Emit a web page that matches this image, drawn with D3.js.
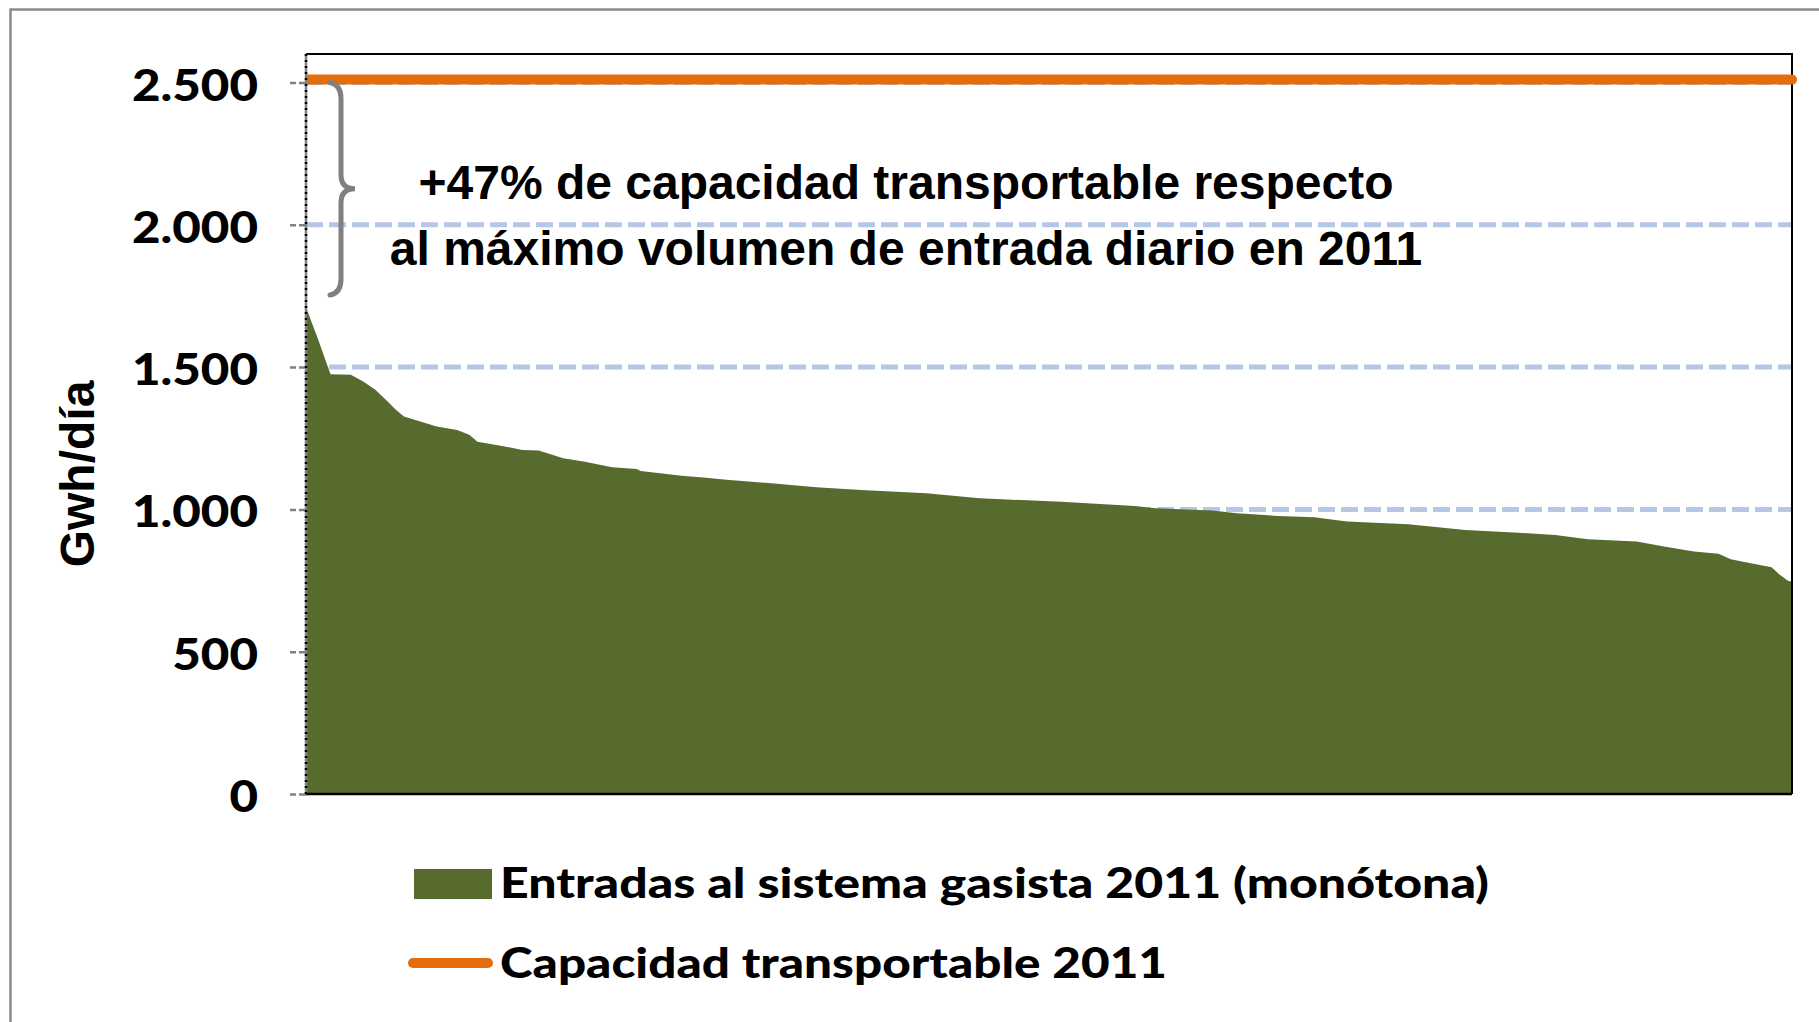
<!DOCTYPE html>
<html>
<head>
<meta charset="utf-8">
<script src="https://cdn.jsdelivr.net/npm/d3@7"></script>
<style>
  html, body { margin: 0; padding: 0; background: #fff; }
  svg { display: block; }
</style>
</head>
<body>
<svg id="chart" width="1819" height="1022"></svg>
<script>
// day of the year (sorted, monotone curve) and daily entries in GWh/día
const days = [0, 3, 5, 6, 11, 14, 17, 20, 22, 24, 28, 32, 37, 40, 42, 48, 53, 57, 63, 68,
  75, 81, 82, 92, 98, 103, 114, 125, 136, 152, 165, 185, 203, 208, 222, 228, 238, 247,
  255, 270, 284, 297, 306, 314, 326, 333, 340, 346, 349, 353, 359, 361, 363, 364];
const entradas = [1710, 1596, 1515, 1475, 1473, 1449, 1420, 1379, 1350, 1326, 1309, 1291,
  1279, 1262, 1238, 1223, 1209, 1207, 1180, 1168, 1148, 1142, 1135, 1118, 1111, 1104,
  1092, 1078, 1068, 1057, 1039, 1027, 1012, 1004, 996, 986, 977, 972, 957, 948, 928,
  918, 910, 895, 887, 869, 852, 844, 825, 813, 797, 770, 749, 746];
const capacidad = 2510;
const yTicks = [0, 500, 1000, 1500, 2000, 2500];
const nDays = 365;

const seriesNames = ['Entradas al sistema gasista 2011 (monótona)', 'Capacidad transportable 2011'];
const annotation = ['+47% de capacidad transportable respecto', 'al máximo volumen de entrada diario en 2011'];
const yTitle = 'Gwh/día';

const colors = { area: '#586b2f', cap: '#e46c0a', grid: '#b4c7e7', grey: '#808080' };

const dim = { left: 306, right: 1792, top: 54, bottom: 794 };

const svg = d3.select('#chart');
const fmt = d3.formatLocale({ decimal: ',', thousands: '.', grouping: [3], currency: ['', '€'] }).format(',');

const x = d3.scaleLinear().domain([0, nDays - 1]).range([dim.left, dim.right]);
const y = d3.scaleLinear().domain([0, 2600]).range([dim.bottom, dim.top]);

// outer frame (runs off the bottom/right of the picture)
svg.append('rect')
  .attr('x', 10.5).attr('y', 9.5)
  .attr('width', 1900).attr('height', 1100)
  .attr('fill', 'none')
  .attr('stroke', '#8a8a8a')
  .attr('stroke-width', 2.5);

// gridlines
svg.append('g')
  .selectAll('line')
  .data(yTicks.filter(d => d > 0))
  .join('line')
  .attr('x1', dim.left).attr('x2', dim.right)
  .attr('y1', d => y(d)).attr('y2', d => y(d))
  .attr('stroke', colors.grid)
  .attr('stroke-width', 5)
  .attr('stroke-dasharray', '17,6');

// area
const area = d3.area()
  .x((d, i) => x(days[i]))
  .y0(y(0))
  .y1(d => y(d));

svg.append('path')
  .datum(entradas)
  .attr('d', area)
  .attr('fill', colors.area);

// plot frame: top + right black, bottom axis
svg.append('path')
  .attr('d', `M${dim.left},${dim.top}H${dim.right}V${dim.bottom}`)
  .attr('fill', 'none')
  .attr('stroke', '#000')
  .attr('stroke-width', 2);

svg.append('line')
  .attr('x1', dim.left).attr('x2', dim.right)
  .attr('y1', y(0)).attr('y2', y(0))
  .attr('stroke', '#000')
  .attr('stroke-width', 2.5);

// capacity line
svg.append('clipPath').attr('id', 'plot-clip')
  .append('rect')
  .attr('x', dim.left).attr('y', 0)
  .attr('width', 1819 - dim.left).attr('height', 1022);

svg.append('line')
  .attr('clip-path', 'url(#plot-clip)')
  .attr('x1', x(0)).attr('x2', x(nDays - 1))
  .attr('y1', y(capacidad)).attr('y2', y(capacidad))
  .attr('stroke', colors.cap)
  .attr('stroke-width', 10)
  .attr('stroke-linecap', 'round');

// y axis
const labelStretch = 1.12;
const $yAxis = svg.append('g')
  .attr('transform', `translate(${dim.left},0)`)
  .call(d3.axisLeft(y).tickValues(yTicks).tickFormat(fmt).tickSize(16).tickPadding(32));

$yAxis.select('.domain').remove();
$yAxis.selectAll('.tick line')
  .attr('stroke', colors.grey)
  .attr('stroke-width', 2.5)
  .attr('stroke-dasharray', '7,3');
$yAxis.selectAll('.tick text')
  .attr('x', -48 / labelStretch)
  .attr('transform', `scale(${labelStretch},1)`)
  .attr('dy', '0.4em')
  .attr('fill', '#000')
  .style('font-family', 'Lato, "Open Sans", sans-serif')
  .style('font-weight', 900)
  .style('font-size', '44px');

svg.append('line')
  .attr('x1', dim.left).attr('x2', dim.left)
  .attr('y1', dim.top).attr('y2', dim.bottom)
  .attr('stroke', colors.grey)
  .attr('stroke-width', 2.5);
svg.append('line')
  .attr('x1', dim.left).attr('x2', dim.left)
  .attr('y1', dim.top).attr('y2', dim.bottom)
  .attr('stroke', '#000')
  .attr('stroke-width', 2.5)
  .attr('stroke-dasharray', '2,4');

svg.append('text')
  .attr('transform', `translate(94,${(dim.top + dim.bottom) / 2 + 50}) rotate(-90)`)
  .attr('text-anchor', 'middle')
  .style('font-family', '"Liberation Sans", Arial, sans-serif')
  .style('font-weight', 700)
  .style('font-size', '48px')
  .text(yTitle);

// brace between max entry and capacity
const bx = 330, bs = 341, bt = 355;
const yTop = y(capacidad) + 3, yBot = 295, yMid = (yTop + yBot) / 2;
svg.append('path')
  .attr('d', `M${bx},${yTop} Q${bs},${yTop + 2} ${bs},${yTop + 16} L${bs},${yMid - 14}
    Q${bs},${yMid} ${bt},${yMid} Q${bs},${yMid} ${bs},${yMid + 14}
    L${bs},${yBot - 16} Q${bs},${yBot - 2} ${bx},${yBot}`)
  .attr('fill', 'none')
  .attr('stroke', colors.grey)
  .attr('stroke-width', 5)
  .attr('stroke-linecap', 'round');

svg.append('g')
  .selectAll('text')
  .data(annotation)
  .join('text')
  .attr('x', 906)
  .attr('y', (d, i) => 199 + i * 66)
  .attr('text-anchor', 'middle')
  .style('font-family', '"Liberation Sans", Arial, sans-serif')
  .style('font-weight', 700)
  .style('font-size', '48px')
  .text(d => d);

// legend
const legendLengths = [989, 667];
const $legend = svg.append('g').attr('class', 'legend');
$legend.append('rect')
  .attr('x', 414).attr('y', 869)
  .attr('width', 78).attr('height', 30)
  .attr('fill', colors.area);
$legend.append('line')
  .attr('x1', 413).attr('x2', 488)
  .attr('y1', 963).attr('y2', 963)
  .attr('stroke', colors.cap)
  .attr('stroke-width', 10)
  .attr('stroke-linecap', 'round');
$legend.selectAll('text')
  .data(seriesNames)
  .join('text')
  .attr('x', 500)
  .attr('y', (d, i) => 898 + i * 80)
  .attr('textLength', (d, i) => legendLengths[i])
  .attr('lengthAdjust', 'spacingAndGlyphs')
  .style('font-family', 'Lato, "Open Sans", sans-serif')
  .style('font-weight', 900)
  .style('font-size', '42px')
  .text(d => d);
</script>
</body>
</html>
